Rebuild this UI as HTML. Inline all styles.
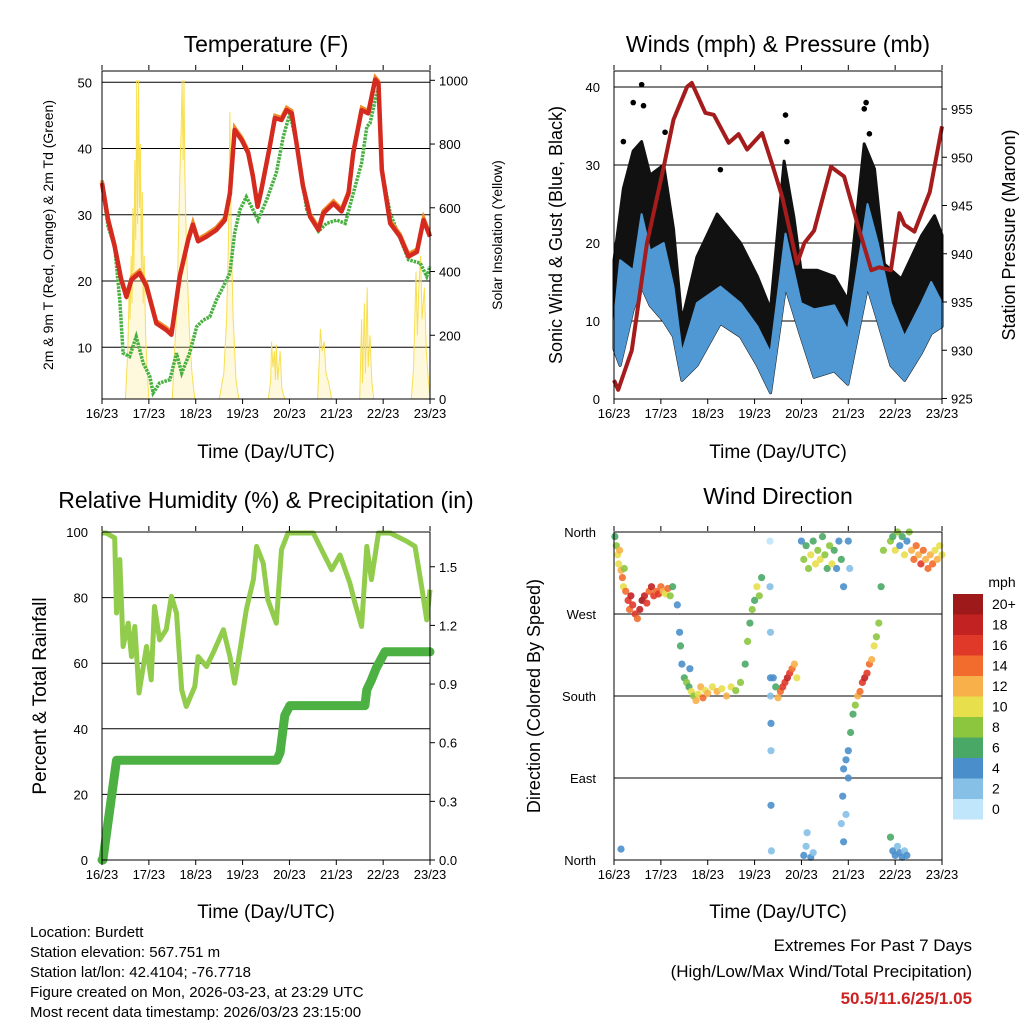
<!DOCTYPE html>
<html><head><meta charset="utf-8"><style>
html,body{margin:0;padding:0;background:#fff}
svg{display:block;font-family:"Liberation Sans",sans-serif}
</style></head><body>
<svg id="s" width="1024" height="1024" viewBox="0 0 1024 1024" xmlns="http://www.w3.org/2000/svg">
<rect width="1024" height="1024" fill="#fff"/>
</svg>
<script>
// ---- Temperature panel data ----
const tempDays=[0,0.13,0.27,0.41,0.52,0.63,0.8,0.95,1.16,1.37,1.48,1.66,1.84,1.94,2.05,2.23,2.44,2.62,2.73,2.83,2.98,3.12,3.22,3.32,3.4,3.58,3.69,3.83,3.94,4.05,4.15,4.29,4.44,4.62,4.72,4.94,5.11,5.26,5.36,5.54,5.68,5.83,5.9,5.97,6.15,6.36,6.54,6.72,6.86,7];
const tempVals=[34.8,29.2,25.2,20.2,17.6,20.2,21.2,19.2,13.6,12.6,11.9,20.7,26.2,28.5,26,26.7,27.7,29.2,33.2,42.8,41.3,39.3,35.8,31.2,33.7,40.3,44.6,44.3,45.8,45.3,40.8,34.3,29.7,27.7,30.2,31.7,30.5,33.2,39.3,45.8,45.3,50.4,49.8,36.8,28.7,26.7,23.7,24.4,29.2,26.7];
const dewDays=[0,0.13,0.27,0.38,0.45,0.59,0.73,0.88,1.02,1.09,1.23,1.45,1.59,1.7,1.87,2.02,2.16,2.3,2.44,2.59,2.73,2.83,2.94,3.08,3.19,3.33,3.51,3.72,3.87,4.01,4.15,4.37,4.62,4.79,5.01,5.19,5.36,5.54,5.65,5.72,5.83,5.9,5.97,6.15,6.43,6.54,6.79,6.93,7];
const dewVals=[34.8,28.2,25.2,17.1,9.1,8.6,11.6,7.6,5.6,3.1,4.6,5.1,9.1,6.1,9.1,13.1,14.1,14.6,17.1,19.2,21.2,27.2,30.7,32.7,31.2,29.2,32.2,36.3,41.8,45.3,40.8,30.7,27.5,28.7,29.2,28.7,33.2,37.8,43.3,43.8,47.3,49.3,36.8,30.2,25.2,23.2,22.7,20.7,22.2];
const solarDays=[0.5,0.55,0.58,0.6,0.62,0.64,0.66,0.68,0.7,0.72,0.74,0.76,0.78,0.8,0.82,0.84,0.86,0.88,0.9,0.93,0.96,1.0,
1.5,1.55,1.6,1.63,1.66,1.69,1.71,1.73,1.75,1.77,1.8,1.83,1.87,1.92,1.98,
2.5,2.6,2.66,2.7,2.73,2.76,2.8,2.86,2.92,
3.55,3.6,3.62,3.65,3.68,3.7,3.72,3.75,3.8,3.84,3.9,
4.6,4.63,4.66,4.7,4.74,4.78,4.84,4.9,
5.5,5.54,5.56,5.6,5.62,5.66,5.68,5.72,5.76,5.8,
6.6,6.65,6.7,6.73,6.76,6.8,6.83,6.88,6.92,6.97,7];
const solarVals=[0,150,350,250,450,300,600,400,750,500,1000,550,1000,600,800,400,650,300,450,200,100,0,
0,150,300,500,700,850,1000,750,1000,700,500,350,200,80,0,
0,80,250,500,900,500,250,60,0,
0,60,180,100,150,60,170,60,150,30,0,
0,100,220,150,180,80,50,0,
0,250,50,300,80,350,100,200,50,0,
0,100,400,200,350,450,250,350,150,50,0];
const tempTicks=[10,20,30,40,50];
const solarTicks=[0,200,400,600,800,1000];
const dayLabels=["16/23","17/23","18/23","19/23","20/23","21/23","22/23","23/23"];
// ---- Wind panel data ----
const pressDays=[0,0.09,0.38,0.7,1.06,1.27,1.56,1.66,1.95,2.13,2.45,2.66,2.84,3.16,3.38,3.59,3.91,4.06,4.27,4.63,4.91,5.2,5.49,5.66,5.91,6.09,6.2,6.41,6.74,7];
const pressVals=[926.9,925.9,930,941,949,953.9,957.3,957.7,954.6,954.4,951.5,952.4,950.8,952.5,949.2,945.9,939,941.1,942.4,949,948,943,938.3,938.6,938.3,944.2,943,942.3,946.4,953.2];
const windDays=[0,0.13,0.41,0.59,0.77,1.06,1.27,1.45,1.77,2.27,2.7,3.06,3.34,3.66,3.99,4.27,4.7,4.99,5.41,5.63,5.91,6.2,6.56,6.77,7];
const windHi=[10,17.8,16.5,23.7,19,20,14.4,5.9,12.3,14.4,12.3,9.3,5.9,21.2,12.3,11.5,12,8.8,25,20,12.3,8,12.3,15,12.3];
const windLo=[6.4,4.3,11.5,14.4,12,10,8,2.4,4.3,9.7,8,4.3,0.8,14.4,8,2.8,3.6,1.9,14.4,10,4.3,2.4,5.9,8.4,9.3];
const gustDays=[0,0.2,0.41,0.59,0.77,1.06,1.27,1.45,1.77,2.2,2.7,3.06,3.34,3.63,3.84,3.99,4.34,4.7,4.99,5.34,5.56,5.77,6.13,6.56,6.84,7];
const gustHi=[17.8,27,31.8,33,28.7,30,21.8,10,18.2,23.7,20,15.7,11.5,30.5,23.3,16.5,16.5,15.7,12.7,32.7,29.5,17.3,15.4,20.9,23.5,21];
const peakDays=[0.59,0.41,0.63,1.09,3.66,5.34,5.38,2.27,0.2,5.45,3.69];
const peakVals=[40.3,38,37.6,34.2,36.4,37.2,38,29.4,33,34,33];
const windTicks=[0,10,20,30,40];
const pressTicks=[925,930,935,940,945,950,955];
// ---- RH panel data ----
const rhDays=[0,0.09,0.27,0.31,0.38,0.45,0.56,0.63,0.7,0.79,0.95,1.05,1.12,1.23,1.37,1.48,1.59,1.7,1.8,1.98,2.05,2.23,2.37,2.59,2.73,2.83,2.98,3.08,3.23,3.3,3.44,3.54,3.72,3.83,3.97,4.51,4.72,4.9,5.08,5.29,5.4,5.54,5.65,5.75,5.9,6.15,6.5,6.68,6.82,6.93,7];
const rhVals=[99.7,99.7,98.2,75.3,91.6,65.1,72.2,62,71.2,50.9,65.1,54.9,77.3,67.1,70.2,80.4,75.3,51.9,46.8,52.9,62,59,63.1,70.2,62,53.9,67.1,76.3,85.5,95.6,90.5,79.3,72.2,94.6,99.7,99.7,93.6,88.5,93,84.4,78.3,71.2,95.6,85.5,99.7,99.7,97.2,95.6,83.4,73.2,82.4];
const precipDays=[0,0.02,0.31,3.73,3.8,3.9,4.01,5.61,5.65,5.75,5.85,6.04,7];
const precipVals=[0,0,0.51,0.51,0.55,0.74,0.79,0.79,0.87,0.92,0.98,1.065,1.065];
const rhTicks=[0,20,40,60,80,100];
const precipTicks=[0,0.3,0.6,0.9,1.2,1.5];
// ---- Wind direction data ----
const dirDay=[0.02,0.05,0.08,0.1,0.12,0.15,0.18,0.2,0.22,0.25,0.3,0.33,0.36,0.4,0.45,0.5,0.55,0.6,0.65,0.7,0.75,0.8,0.85,0.9,0.95,1.0,1.05,1.1,1.15,1.2,1.25,0.15,
1.35,1.4,1.42,1.45,1.5,1.55,1.6,1.62,1.65,1.7,1.75,1.8,1.85,1.9,1.95,2.0,2.1,2.2,2.3,2.4,2.5,2.6,2.7,2.8,2.85,2.9,2.95,3.0,3.05,3.1,3.15,
3.33,3.33,3.34,3.34,3.35,3.35,3.36,3.34,3.35,
3.4,3.45,3.5,3.55,3.6,3.65,3.7,3.75,3.8,3.85,3.9,
4.0,4.05,4.1,4.15,4.2,4.25,4.3,4.35,4.4,4.45,4.5,4.55,4.6,4.65,4.7,4.75,4.8,4.85,4.9,5.0,5.03,4.05,4.1,4.12,4.2,4.25,
4.85,4.88,4.9,4.95,5.0,5.0,5.05,5.1,5.15,5.2,5.25,5.3,5.35,5.4,5.45,5.5,5.55,5.6,5.65,5.7,5.75,4.9,4.95,
5.9,5.95,6.0,6.05,6.1,6.15,6.2,6.25,6.3,6.35,6.4,6.45,6.5,6.55,6.6,6.65,6.7,6.75,6.8,6.85,6.9,6.95,7.0,5.9,5.95,6.0,6.05,6.1,6.15,6.2,6.25];
const dirDeg=[355,345,335,325,340,318,310,300,320,295,285,275,290,280,270,265,275,285,290,282,295,300,290,295,292,300,295,292,298,290,300,12,
280,250,235,215,200,195,190,210,185,180,175,182,190,178,186,183,190,185,188,180,190,186,195,215,240,260,275,285,300,290,310,
350,300,250,180,120,60,10,200,150,
200,190,178,185,190,195,200,205,210,215,200,
350,330,345,320,335,350,325,340,330,355,335,320,345,325,340,320,350,330,300,350,320,5,15,30,3,8,
40,70,100,110,120,90,140,160,170,180,185,195,200,205,215,220,235,245,260,300,340,20,50,
350,355,340,360,345,355,335,350,360,340,330,345,335,325,340,330,320,335,325,340,330,345,335,25,10,5,15,8,3,10,5];
const dirSpd=[6,8,10,10,12,12,14,10,8,14,16,14,18,16,16,14,18,20,18,16,14,18,16,14,16,14,12,10,14,8,6,4,
4,4,6,4,6,8,6,4,10,8,12,10,12,14,10,12,10,12,10,12,10,8,8,6,8,6,8,6,10,8,6,
0,2,2,2,2,4,2,4,4,
4,6,12,14,16,16,18,16,14,12,10,
4,8,6,8,10,6,10,8,10,6,8,6,8,10,6,4,4,6,4,4,2,4,2,2,4,2,
2,4,4,4,4,4,6,6,8,12,14,16,18,16,14,12,10,8,8,6,8,4,2,
8,6,10,8,4,6,10,4,8,12,14,14,12,16,14,12,14,12,14,10,12,10,10,6,4,4,2,4,4,2,4];
const speedColors=["#bfe6fa","#86c0e6","#4a8fcb","#4aa866","#8cc63f","#e8df4c","#f7b04a","#f26d2d","#e0392a","#c22222","#9e1a1a"];
const speedLabels=["0","2","4","6","8","10","12","14","16","18","20+"];
const dirLabels=["North","East","South","West","North"];

const NS="http://www.w3.org/2000/svg";
const svg=document.getElementById('s');
function mk(tag,attrs,parent){const e=document.createElementNS(NS,tag);for(const k in attrs)e.setAttribute(k,attrs[k]);(parent||svg).appendChild(e);return e;}
function txt(x,y,s,size,anchor,parent,rot,extra){const t=mk('text',{x:x,y:y,'font-size':size,'text-anchor':anchor||'middle',fill:'#000'},parent);if(rot)t.setAttribute('transform','rotate(-90 '+x+' '+y+')');if(extra)for(const k in extra)t.setAttribute(k,extra[k]);t.textContent=s;return t;}
const DAYPX=46.86;
function pts(days,vals,fx,fy){return days.map((d,i)=>fx(d).toFixed(1)+','+fy(vals[i]).toFixed(1)).join(' ');}
function xAxis(g,x0,yb){dayLabels.forEach((l,i)=>{const x=x0+i*DAYPX;mk('line',{x1:x,y1:yb,x2:x,y2:yb+5,stroke:'#000'},g);mk('line',{x1:x,y1:yb-329,x2:x,y2:yb-334,stroke:'#000'},g);const t=txt(x,yb+19,l,13,'middle',g);});}

// ===== Panel 1: temperature =====
(function(){
const g=mk('g',{});
const X0=102,X1=430,Y0=71,Y1=399;
const fx=d=>X0+d*DAYPX, fy=v=>413.5-6.625*v, fs=v=>399-0.3187*v;
tempTicks.forEach(v=>{const l=mk('line',{x1:X0,x2:X1,y1:fy(v),y2:fy(v),stroke:'#000','stroke-width':1},g);const t=txt(X0-10,fy(v)+5,String(v),13,'end',g);});
solarTicks.forEach(v=>{mk('line',{x1:X1,x2:X1+5,y1:fs(v),y2:fs(v),stroke:'#000'},g);const t=txt(X1+9,fs(v)+5,String(v),13,'start',g);});
const so=mk('polyline',{points:fx(0)+','+fs(0)+' '+pts(solarDays,solarVals,fx,fs)+' '+fx(7)+','+fs(0),fill:'#fbe98a','fill-opacity':0.3,stroke:'#f8df50','stroke-width':1},g);
const dw=mk('polyline',{points:pts(dewDays,dewVals,fx,fy),fill:'none',stroke:'#48b040','stroke-width':3.5,'stroke-dasharray':'2.5 1'},g);
const t9=mk('polyline',{points:pts(tempDays,tempVals.map(v=>v+0.4),fx,fy),fill:'none',stroke:'#f28c28','stroke-width':3.5},g);
const t2=mk('polyline',{points:pts(tempDays,tempVals,fx,fy),fill:'none',stroke:'#d42a20','stroke-width':4.5,'stroke-linejoin':'round'},g);
const fr=mk('rect',{x:X0,y:Y0,width:X1-X0,height:Y1-Y0,fill:'none',stroke:'#000'},g);
xAxis(g,X0,Y1);
let t=txt(266,52,'Temperature (F)',23,'middle',g);
t=txt(266,458,'Time (Day/UTC)',19,'middle',g);
t=txt(53,235,'2m & 9m T (Red, Orange) & 2m Td (Green)',14,'middle',g,true);
t=txt(502,235,'Solar Insolation (Yellow)',14,'middle',g,true);
})();

// ===== Panel 2: winds =====
(function(){
const g=mk('g',{});
const X0=614,X1=942,Y0=71,Y1=399;
const fx=d=>X0+d*DAYPX, fy=v=>399-7.8*v, fp=p=>398.5-9.65*(p-925);
windTicks.forEach(v=>{if(v>0){const l=mk('line',{x1:X0,x2:X1,y1:fy(v),y2:fy(v),stroke:'#000'},g);}const t=txt(X0-14,fy(v)+5,String(v),13,'end',g);});
pressTicks.forEach(v=>{mk('line',{x1:X1,x2:X1+5,y1:fp(v),y2:fp(v),stroke:'#000'},g);const t=txt(X1+9,fp(v)+5,String(v),13,'start',g);});
const lowRev=windDays.slice().reverse().map((d,j)=>{const i=windDays.length-1-j;return fx(d)+','+fy(windLo[i]);}).join(' ');
const gu=mk('polygon',{points:pts(gustDays,gustHi,fx,fy)+' '+lowRev,fill:'#111',stroke:'#111','stroke-width':3,'stroke-linejoin':'round'},g);
peakDays.forEach((d,i)=>{const c=mk('circle',{cx:fx(d),cy:fy(peakVals[i]),r:2.8,fill:'#000'},g);

});
const wi=mk('polygon',{points:pts(windDays,windHi,fx,fy)+' '+lowRev,fill:'#4f98d4',stroke:'#4f98d4','stroke-width':2,'stroke-linejoin':'round'},g);
const pr=mk('polyline',{points:pts(pressDays,pressVals,fx,fp),fill:'none',stroke:'#a51c1c','stroke-width':4,'stroke-linejoin':'round'},g);
const fr=mk('rect',{x:X0,y:Y0,width:X1-X0,height:Y1-Y0,fill:'none',stroke:'#000'},g);
xAxis(g,X0,Y1);
let t=txt(778,52,'Winds (mph) & Pressure (mb)',23,'middle',g);
t=txt(778,458,'Time (Day/UTC)',19,'middle',g);
t=txt(562,235,'Sonic Wind & Gust (Blue, Black)',18,'middle',g,true);
t=txt(1015,235,'Station Pressure (Maroon)',18,'middle',g,true);
})();

// ===== Panel 3: RH & precip =====
(function(){
const g=mk('g',{});
const X0=102,X1=430,Y0=532,Y1=860;
const fx=d=>X0+d*DAYPX, fy=v=>860-3.28*v, fp=v=>860-195.5*v;
rhTicks.forEach(v=>{if(v>0&&v<100){const l=mk('line',{x1:X0,x2:X1,y1:fy(v),y2:fy(v),stroke:'#000'},g);}const t=txt(X0-14,fy(v)+5,String(v),13,'end',g);});
precipTicks.forEach(v=>{mk('line',{x1:X1,x2:X1+5,y1:fp(v),y2:fp(v),stroke:'#000'},g);const t=txt(X1+9,fp(v)+5,v.toFixed(1),13,'start',g);});
const rh=mk('polyline',{points:pts(rhDays,rhVals,fx,fy),fill:'none',stroke:'#92cc4c','stroke-width':5,'stroke-linejoin':'round'},g);
const pc=mk('polyline',{points:pts(precipDays,precipVals,fx,fp),fill:'none',stroke:'#4cb043','stroke-width':9,'stroke-linejoin':'round','stroke-linecap':'round'},g);
const fr=mk('rect',{x:X0,y:Y0,width:X1-X0,height:Y1-Y0,fill:'none',stroke:'#000'},g);
xAxis(g,X0,Y1);
let t=txt(266,508,'Relative Humidity (%) & Precipitation (in)',23,'middle',g);
t=txt(266,918,'Time (Day/UTC)',19,'middle',g);
t=txt(46,696,'Percent & Total Rainfall',19,'middle',g,true);
})();

// ===== Panel 4: wind direction =====
(function(){
const g=mk('g',{});
const X0=614,X1=942,Y0=532,Y1=860;
const fx=d=>X0+d*DAYPX, fy=deg=>860-0.911*deg;
dirLabels.forEach((l,i)=>{const y=fy(i*90);if(i>0&&i<4){const ln=mk('line',{x1:X0,x2:X1,y1:y,y2:y,stroke:'#000'},g);}const t=txt(X0-18,y+5,l,13,'end',g);});
dirDay.forEach((d,i)=>{const bin=Math.min(10,Math.max(0,Math.round(dirSpd[i]/2)));const c=mk('circle',{cx:fx(d).toFixed(1),cy:fy(dirDeg[i]).toFixed(1),r:3.6,fill:speedColors[bin],'fill-opacity':0.9},g);

});
const fr=mk('rect',{x:X0,y:Y0,width:X1-X0,height:Y1-Y0,fill:'none',stroke:'#000'},g);
xAxis(g,X0,Y1);
let t=txt(778,504,'Wind Direction',23,'middle',g);
t=txt(778,918,'Time (Day/UTC)',19,'middle',g);
t=txt(540,696,'Direction (Colored By Speed)',18,'middle',g,true);
const lg=mk('g',{},g);
t=txt(1002,587,'mph',14,'middle',lg);
for(let k=0;k<11;k++){const bin=10-k;const y=594+k*20.5;const r=mk('rect',{x:953,y:y,width:30,height:20.5,fill:speedColors[bin]},lg);const tl=txt(992,y+15,speedLabels[bin],14,'start',lg);}
})();

// ===== Footer =====
(function(){
const g=mk('g',{});
["Location: Burdett","Station elevation: 567.751 m","Station lat/lon: 42.4104; -76.7718","Figure created on Mon, 2026-03-23, at 23:29 UTC","Most recent data timestamp: 2026/03/23 23:15:00"].forEach((s,i)=>{const t=txt(30,937+i*20,s,15,'start',g);});
const h=mk('g',{});
let t=txt(972,951,'Extremes For Past 7 Days',17,'end',h);
t=txt(972,977,'(High/Low/Max Wind/Total Precipitation)',17,'end',h);
t=txt(972,1004,'50.5/11.6/25/1.05',17,'end',h,false,{fill:'#cc2222','font-weight':'bold'});
})();
</script>
</body></html>
